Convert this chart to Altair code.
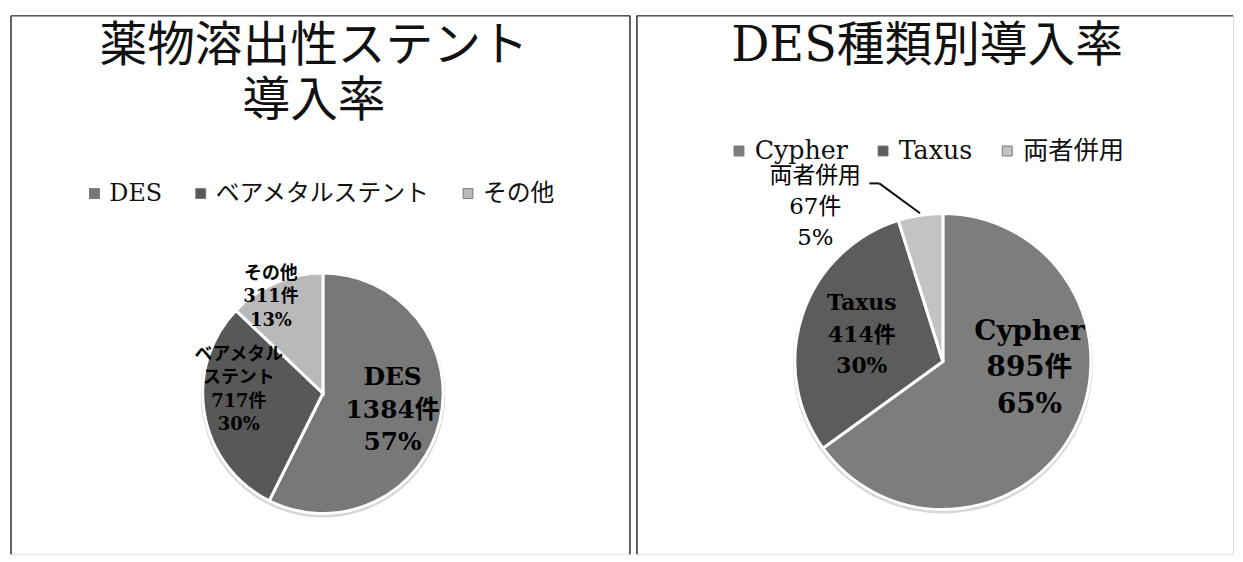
import altair as alt
import pandas as pd

FONT = "DejaVu Serif, Noto Sans CJK JP"

# ---- data ----
left_title = "薬物溶出性ステント\n導入率"
left_cats = ["DES", "ベアメタルステント", "その他"]
left_label_names = ["DES", "ベアメタル\nステント", "その他"]
left_counts = [1384, 717, 311]
left_colors = ["#787878", "#585858", "#b9b9b9"]

right_title = "DES種類別導入率"
right_cats = ["Cypher", "Taxus", "両者併用"]
right_label_names = ["Cypher", "Taxus", "両者併用"]
right_counts = [895, 414, 67]
right_colors = ["#7d7d7d", "#5c5c5c", "#c3c3c3"]


def make_df(cats, names, counts):
    total = sum(counts)
    rows = []
    for i, (c, n, v) in enumerate(zip(cats, names, counts)):
        pct = round(v / total * 100)
        rows.append({"cat": c, "value": v, "order": i,
                     "label": f"{n}\n{v}件\n{pct}%"})
    return pd.DataFrame(rows), total


H = 542


def panel(title, title_xy, title_size, cats, names, counts, colors,
          cx, cy, R, legend_xy, col_pad, leg_fs, label_specs, W, borders, leader=None):
    df, total = make_df(cats, names, counts)
    theta_scale = alt.Scale(domain=[0, total])
    base = alt.Chart(df).transform_stack(
        stack="value", as_=["v0", "v1"], groupby=[],
        sort=[alt.SortField("order", order="ascending")]
    ).transform_calculate(mid="(datum.v0 + datum.v1) / 2")

    bdf = pd.DataFrame({"k": [0]})
    shadow = alt.Chart(bdf).mark_arc(
        radius=R + 2, theta=0, theta2=6.2832, color="#d6d6d6"
    ).encode(x=alt.value(cx), y=alt.value(cy + 2))

    arcs = base.mark_arc(radius=R, stroke="white", strokeWidth=3).encode(
        theta=alt.Theta("v0:Q", scale=theta_scale),
        theta2="v1:Q",
        color=alt.Color("cat:N", scale=alt.Scale(domain=cats, range=colors),
                        legend=alt.Legend(
                            orient="none", legendX=legend_xy[0], legendY=legend_xy[1],
                            direction="horizontal", title=None,
                            symbolType="square", symbolSize=100,
                            symbolStrokeColor="#777", symbolStrokeWidth=1,
                            labelFont=FONT, labelFontSize=leg_fs, labelColor="#111",
                            labelLimit=500, columnPadding=col_pad, labelOffset=3)),
        x=alt.value(cx), y=alt.value(cy),
    )
    layers = [shadow, arcs]
    for cat, r, fs, lh, fw, dx, dy, nlines in label_specs:
        t = base.transform_filter(alt.datum.cat == cat).mark_text(
            radius=r, fontSize=fs, lineHeight=lh, fontWeight=fw, font=FONT,
            lineBreak="\n", color="black", dx=dx, dy=dy - (nlines - 1) * lh / 2,
        ).encode(theta=alt.Theta("mid:Q", scale=theta_scale), text="label:N",
                 x=alt.value(cx), y=alt.value(cy))
        layers.append(t)

    if leader is not None:
        lcat, ddx, ddy, hlen = leader
        lead = base.transform_filter(alt.datum.cat == lcat).transform_calculate(
            a=f"datum.mid / {total} * 2 * PI",
        ).transform_calculate(
            px=f"{cx} + {R + 2} * sin(datum.a)",
            py=f"{cy} - {R + 2} * cos(datum.a)",
        ).transform_calculate(
            qx=f"datum.px + ({ddx})", qy=f"datum.py + ({ddy})",
        ).transform_calculate(rx=f"datum.qx - {hlen}")
        l1 = lead.mark_rule(color="#111", strokeWidth=2).encode(
            x=alt.X("px:Q", scale=None), y=alt.Y("py:Q", scale=None),
            x2="qx:Q", y2="qy:Q")
        l2 = lead.mark_rule(color="#111", strokeWidth=2).encode(
            x=alt.X("qx:Q", scale=None), y=alt.Y("qy:Q", scale=None),
            x2="rx:Q", y2="qy:Q")
        layers += [l1, l2]

    tdf = pd.DataFrame({"t": [title]})
    ttl = alt.Chart(tdf).mark_text(
        fontSize=title_size, font=FONT, lineBreak="\n", lineHeight=55,
        color="#111", baseline="middle"
    ).encode(text="t:N", x=alt.value(title_xy[0]), y=alt.value(title_xy[1]))
    layers.append(ttl)

    for side in borders:
        if side == "left":
            b = alt.Chart(bdf).mark_rule(color="#333", strokeWidth=1.5).encode(
                x=alt.value(0), y=alt.value(0), y2=alt.value(H))
        elif side == "right":
            b = alt.Chart(bdf).mark_rule(color="#333", strokeWidth=1.5).encode(
                x=alt.value(W), y=alt.value(0), y2=alt.value(H))
        else:
            b = alt.Chart(bdf).mark_rule(color="#555", strokeWidth=1.5).encode(
                x=alt.value(0), x2=alt.value(W), y=alt.value(0))
        layers.append(b)

    return alt.layer(*layers).properties(width=W, height=H)


left = panel(
    left_title, (305, 32), 48, left_cats, left_label_names, left_counts, left_colors,
    314, 380, 121, (72, 167), 26, 24,
    [("DES", 72, 25, 33, "bold", 0, 0, 3),
     ("ベアメタルステント", 86, 18, 23.5, "bold", 0, -18, 4),
     ("その他", 105, 18, 24, "bold", -11, 0, 3)],
    623, ["left", "top", "right"],
)

right = panel(
    right_title, (292, 32), 48, right_cats, right_label_names, right_counts, right_colors,
    308, 348, 149, (90, 123), 22, 25.5,
    [("Cypher", 90, 28, 37, "bold", 7, -34, 3),
     ("Taxus", 86, 22, 32, "bold", 0, 0, 3),
     ("両者併用", 200, 23, 31, "normal", -98, 42, 3)],
    600, ["left", "top"],
    leader=("両者併用", -41, -30, 10),
)

chart = alt.hconcat(left, right, spacing=3).resolve_scale(
    color="independent", theta="independent"
).resolve_legend(color="independent").properties(
    padding={"left": 1, "top": 4, "right": 0, "bottom": 0}
).configure_view(stroke="transparent", strokeWidth=0).configure(background="white")

chart.save("out.html", embed_options={"renderer": "svg", "actions": False})
